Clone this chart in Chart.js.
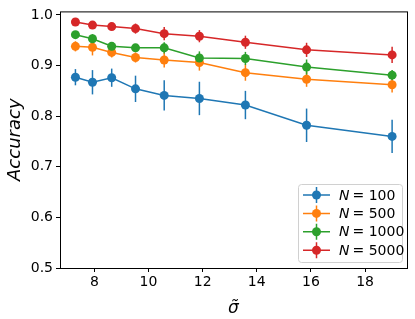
<!DOCTYPE html>
<html>
<head>
<meta charset="utf-8">
<script src="https://cdn.jsdelivr.net/npm/chart.js@4.4.0/dist/chart.umd.min.js"></script>
<style>
  html, body { margin: 0; padding: 0; background: #fff; }
  #wrap { width: 415px; height: 319px; }
</style>
</head>
<body>
<div id="wrap"><canvas id="c" width="415" height="319"></canvas></div>
<script>
// ── Data ────────────────────────────────────────────────

const sigma = [7.3, 7.93, 8.64, 9.52, 10.58, 11.88, 13.58, 15.84, 19.0];

const accN100  = [0.877, 0.867, 0.876, 0.854, 0.841, 0.835, 0.822, 0.782, 0.760];
const accN500  = [0.938, 0.936, 0.926, 0.916, 0.911, 0.906, 0.886, 0.873, 0.862];
const accN1000 = [0.961, 0.953, 0.938, 0.935, 0.935, 0.915, 0.914, 0.897, 0.881];
const accN5000 = [0.986, 0.980, 0.977, 0.973, 0.963, 0.958, 0.946, 0.931, 0.921];

const errN100  = [0.016, 0.024, 0.018, 0.026, 0.030, 0.033, 0.028, 0.033, 0.033];
const errN500  = [0.010, 0.016, 0.010, 0.010, 0.015, 0.016, 0.016, 0.015, 0.015];
const errN1000 = [0.007, 0.009, 0.008, 0.007, 0.011, 0.013, 0.013, 0.015, 0.010];
const errN5000 = [0.004, 0.004, 0.004, 0.010, 0.013, 0.012, 0.013, 0.014, 0.016];

const seriesLabels = ['100', '500', '1000', '5000'];
const xTicks = [8, 10, 12, 14, 16, 18];
const yTicks = [0.5, 0.6, 0.7, 0.8, 0.9, 1.0];

const COLORS = ['#1f77b4', '#ff7f0e', '#2ca02c', '#d62728'];
const FONT = "'DejaVu Sans', sans-serif";

const values = [accN100, accN500, accN1000, accN5000];
const errors = [errN100, errN500, errN1000, errN5000];

// ── Plugins ─────────────────────────────────────────────

const errorBars = {
  id: 'errorBars',
  beforeDatasetsDraw(chart) {
    const { ctx, scales: { x, y } } = chart;
    ctx.save();
    ctx.lineWidth = 1.5;
    chart.data.datasets.forEach(ds => {
      ctx.strokeStyle = ds.borderColor;
      ds.data.forEach((p, j) => {
        const e = ds.errors[j];
        const px = x.getPixelForValue(p.x);
        ctx.beginPath();
        ctx.moveTo(px, y.getPixelForValue(p.y - e));
        ctx.lineTo(px, y.getPixelForValue(p.y + e));
        ctx.stroke();
      });
    });
    ctx.restore();
  },
};

const frameAndLegend = {
  id: 'frameAndLegend',
  afterDraw(chart) {
    const { ctx, chartArea: a } = chart;
    ctx.save();
    // axes box
    ctx.strokeStyle = '#000';
    ctx.lineWidth = 1;
    ctx.strokeRect(a.left + 0.5, a.top + 0.5, a.right - a.left, a.bottom - a.top);

    // legend
    const bx = 298, by = 184, bw = 104, bh = 78, r = 3;
    ctx.beginPath();
    ctx.roundRect(bx + 0.5, by + 0.5, bw, bh, r);
    ctx.fillStyle = 'rgba(255,255,255,0.8)';
    ctx.fill();
    ctx.strokeStyle = '#d0d0d0';
    ctx.stroke();

    chart.data.datasets.forEach((ds, i) => {
      const cy = 195 + i * 18.4;
      ctx.strokeStyle = ds.borderColor;
      ctx.fillStyle = ds.borderColor;
      ctx.lineWidth = 1.5;
      ctx.beginPath();
      ctx.moveTo(303, cy); ctx.lineTo(330, cy);
      ctx.moveTo(316.5, cy - 8); ctx.lineTo(316.5, cy + 8);
      ctx.stroke();
      ctx.beginPath();
      ctx.arc(316.5, cy, 4.5, 0, Math.PI * 2);
      ctx.fill();

      ctx.fillStyle = '#000';
      ctx.textBaseline = 'middle';
      ctx.font = 'italic 14px ' + FONT;
      ctx.fillText('N', 339, cy + 1);
      const w = ctx.measureText('N').width;
      ctx.font = '14px ' + FONT;
      ctx.fillText('= ' + seriesLabels[i], 339 + w + 3, cy + 1);
    });
    ctx.restore();
  },
};

// ── Chart ───────────────────────────────────────────────

new Chart(document.getElementById('c'), {
  type: 'line',
  data: {
    datasets: values.map((vals, i) => ({
      label: 'N = ' + seriesLabels[i],
      data: vals.map((v, j) => ({ x: sigma[j], y: v })),
      errors: errors[i],
      borderColor: COLORS[i],
      backgroundColor: COLORS[i],
      borderWidth: 1.5,
      pointRadius: 4.5,
      pointHoverRadius: 4.5,
      pointBorderWidth: 0,
      tension: 0,
      fill: false,
      order: 3 - i,
    })),
  },
  options: {
    responsive: false,
    animation: false,
    events: [],
    layout: { padding: { left: 0, right: 8, top: 10, bottom: 0 } },
    plugins: { legend: { display: false }, tooltip: { enabled: false } },
    scales: {
      x: {
        type: 'linear',
        min: 6.73,
        max: 19.55,
        afterBuildTicks: s => { s.ticks = xTicks.map(v => ({ value: v })); },
        afterFit: s => { s.height = 51; },
        grid: { drawOnChartArea: false, drawTicks: true, tickLength: 4, color: '#000' },
        border: { display: false },
        ticks: { color: '#000', padding: 2, font: { family: FONT, size: 14 }, maxRotation: 0 },
        title: {
          display: true,
          text: 'σ\u0303',
          color: '#000',
          font: { family: FONT, size: 17, style: 'italic' },
          padding: { top: 0, bottom: 0 },
        },
      },
      y: {
        type: 'linear',
        min: 0.5,
        max: 1.007,
        afterBuildTicks: s => { s.ticks = yTicks.map(v => ({ value: v })); },
        afterFit: s => { s.width = 60; },
        grid: { drawOnChartArea: false, drawTicks: true, tickLength: 4, color: '#000' },
        border: { display: false },
        ticks: {
          color: '#000',
          padding: 3,
          font: { family: FONT, size: 14 },
          callback: v => v.toFixed(1),
        },
        title: {
          display: true,
          text: 'Accuracy',
          color: '#000',
          font: { family: FONT, size: 18, style: 'italic' },
          padding: { top: 5, bottom: 0 },
        },
      },
    },
  },
  plugins: [errorBars, frameAndLegend],
});
</script>
</body>
</html>
